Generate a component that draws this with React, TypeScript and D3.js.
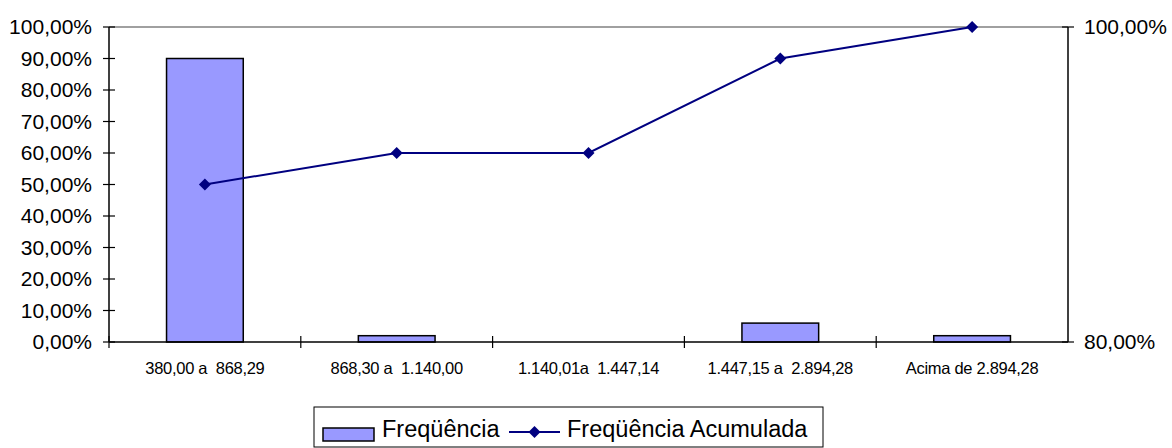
import React from 'react';
import * as d3 from 'd3';

const categories = ['380,00 a  868,29', '868,30 a  1.140,00', '1.140,01a  1.447,14', '1.447,15 a  2.894,28', 'Acima de 2.894,28'];
const frequencia = [0.9, 0.02, 0, 0.06, 0.02];
const acumulada = [0.9, 0.92, 0.92, 0.98, 1.0];
const leftTicks = [0, 0.1, 0.2, 0.3, 0.4, 0.5, 0.6, 0.7, 0.8, 0.9, 1.0];
const rightTicks = [0.8, 1.0];

const W = 1172;
const H = 448;
const plot = { left: 109, right: 1068, top: 27, bottom: 342 };
const font = '"Liberation Sans", Arial, sans-serif';

const fmt = (v: number) => (v * 100).toFixed(2).replace('.', ',') + '%';

export default function App() {
  const x = d3.scaleBand<string>().domain(categories).range([plot.left, plot.right]);
  const yL = d3.scaleLinear().domain([0, 1]).range([plot.bottom, plot.top]);
  const yR = d3.scaleLinear().domain([0.8, 1]).range([plot.bottom, plot.top]);
  const barW = x.bandwidth() * 0.4;

  const line = d3.line<number>()
    .x((_, i) => x(categories[i])! + x.bandwidth() / 2)
    .y(d => yR(d));

  return (
    <svg width={W} height={H} style={{ position: 'absolute', left: 0, top: 0, background: '#fff' }} fontFamily={font}>
      {/* top border of plot area */}
      <line x1={plot.left} x2={plot.right} y1={plot.top} y2={plot.top} stroke="#808080" strokeWidth={1.5} />

      {/* bars */}
      {frequencia.map((v, i) => (
        v > 0 ? (
          <rect key={i}
            x={x(categories[i])! + (x.bandwidth() - barW) / 2}
            y={yL(v)}
            width={barW}
            height={yL(0) - yL(v)}
            fill="#9999ff" stroke="#000" strokeWidth={1.5} />
        ) : null
      ))}

      {/* left axis */}
      <line x1={plot.left} x2={plot.left} y1={plot.top} y2={plot.bottom} stroke="#000" strokeWidth={1.5} />
      {leftTicks.map(t => (
        <g key={t}>
          <line x1={plot.left - 6} x2={plot.left + 6} y1={yL(t)} y2={yL(t)} stroke="#000" strokeWidth={1.2} />
          <text x={92} y={yL(t) + 7} textAnchor="end" fontSize={21} fill="#000">{fmt(t)}</text>
        </g>
      ))}

      {/* right axis */}
      <line x1={plot.right} x2={plot.right} y1={plot.top} y2={plot.bottom} stroke="#000" strokeWidth={1.5} />
      {rightTicks.map(t => (
        <g key={t}>
          <line x1={plot.right - 6} x2={plot.right + 6} y1={yR(t)} y2={yR(t)} stroke="#000" strokeWidth={1.2} />
          <text x={1084} y={yR(t) + 7} textAnchor="start" fontSize={21} fill="#000">{fmt(t)}</text>
        </g>
      ))}

      {/* bottom axis */}
      <line x1={plot.left} x2={plot.right} y1={plot.bottom} y2={plot.bottom} stroke="#000" strokeWidth={1.5} />
      {categories.map(c => (
        <g key={c}>
          <line x1={x(c)!} x2={x(c)!} y1={plot.bottom - 6} y2={plot.bottom + 6} stroke="#000" strokeWidth={1.2} />
          <text x={x(c)! + x.bandwidth() / 2} y={374} textAnchor="middle" fontSize={16.5} letterSpacing={-0.3} fill="#000" style={{ whiteSpace: 'pre' }}>{c}</text>
        </g>
      ))}

      {/* cumulative line */}
      <path d={line(acumulada)!} fill="none" stroke="#000080" strokeWidth={2} />
      {acumulada.map((v, i) => {
        const cx = x(categories[i])! + x.bandwidth() / 2;
        const cy = yR(v);
        return <path key={i} d={`M${cx},${cy - 6}L${cx + 6},${cy}L${cx},${cy + 6}L${cx - 6},${cy}Z`} fill="#000080" />;
      })}

      {/* legend */}
      <rect x={314} y={407} width={509} height={40} fill="#fff" stroke="#000" strokeWidth={1} />
      <rect x={323} y={428} width={51} height={13} fill="#9999ff" stroke="#000" strokeWidth={1.5} />
      <text x={382} y={437} fontSize={23.5} fill="#000">Freqüência</text>
      <line x1={509} x2={560} y1={432} y2={432} stroke="#000080" strokeWidth={2} />
      <path d="M534.5,426L540.5,432L534.5,438L528.5,432Z" fill="#000080" />
      <text x={567} y={437} fontSize={23.5} fill="#000">Freqüência Acumulada</text>
    </svg>
  );
}
